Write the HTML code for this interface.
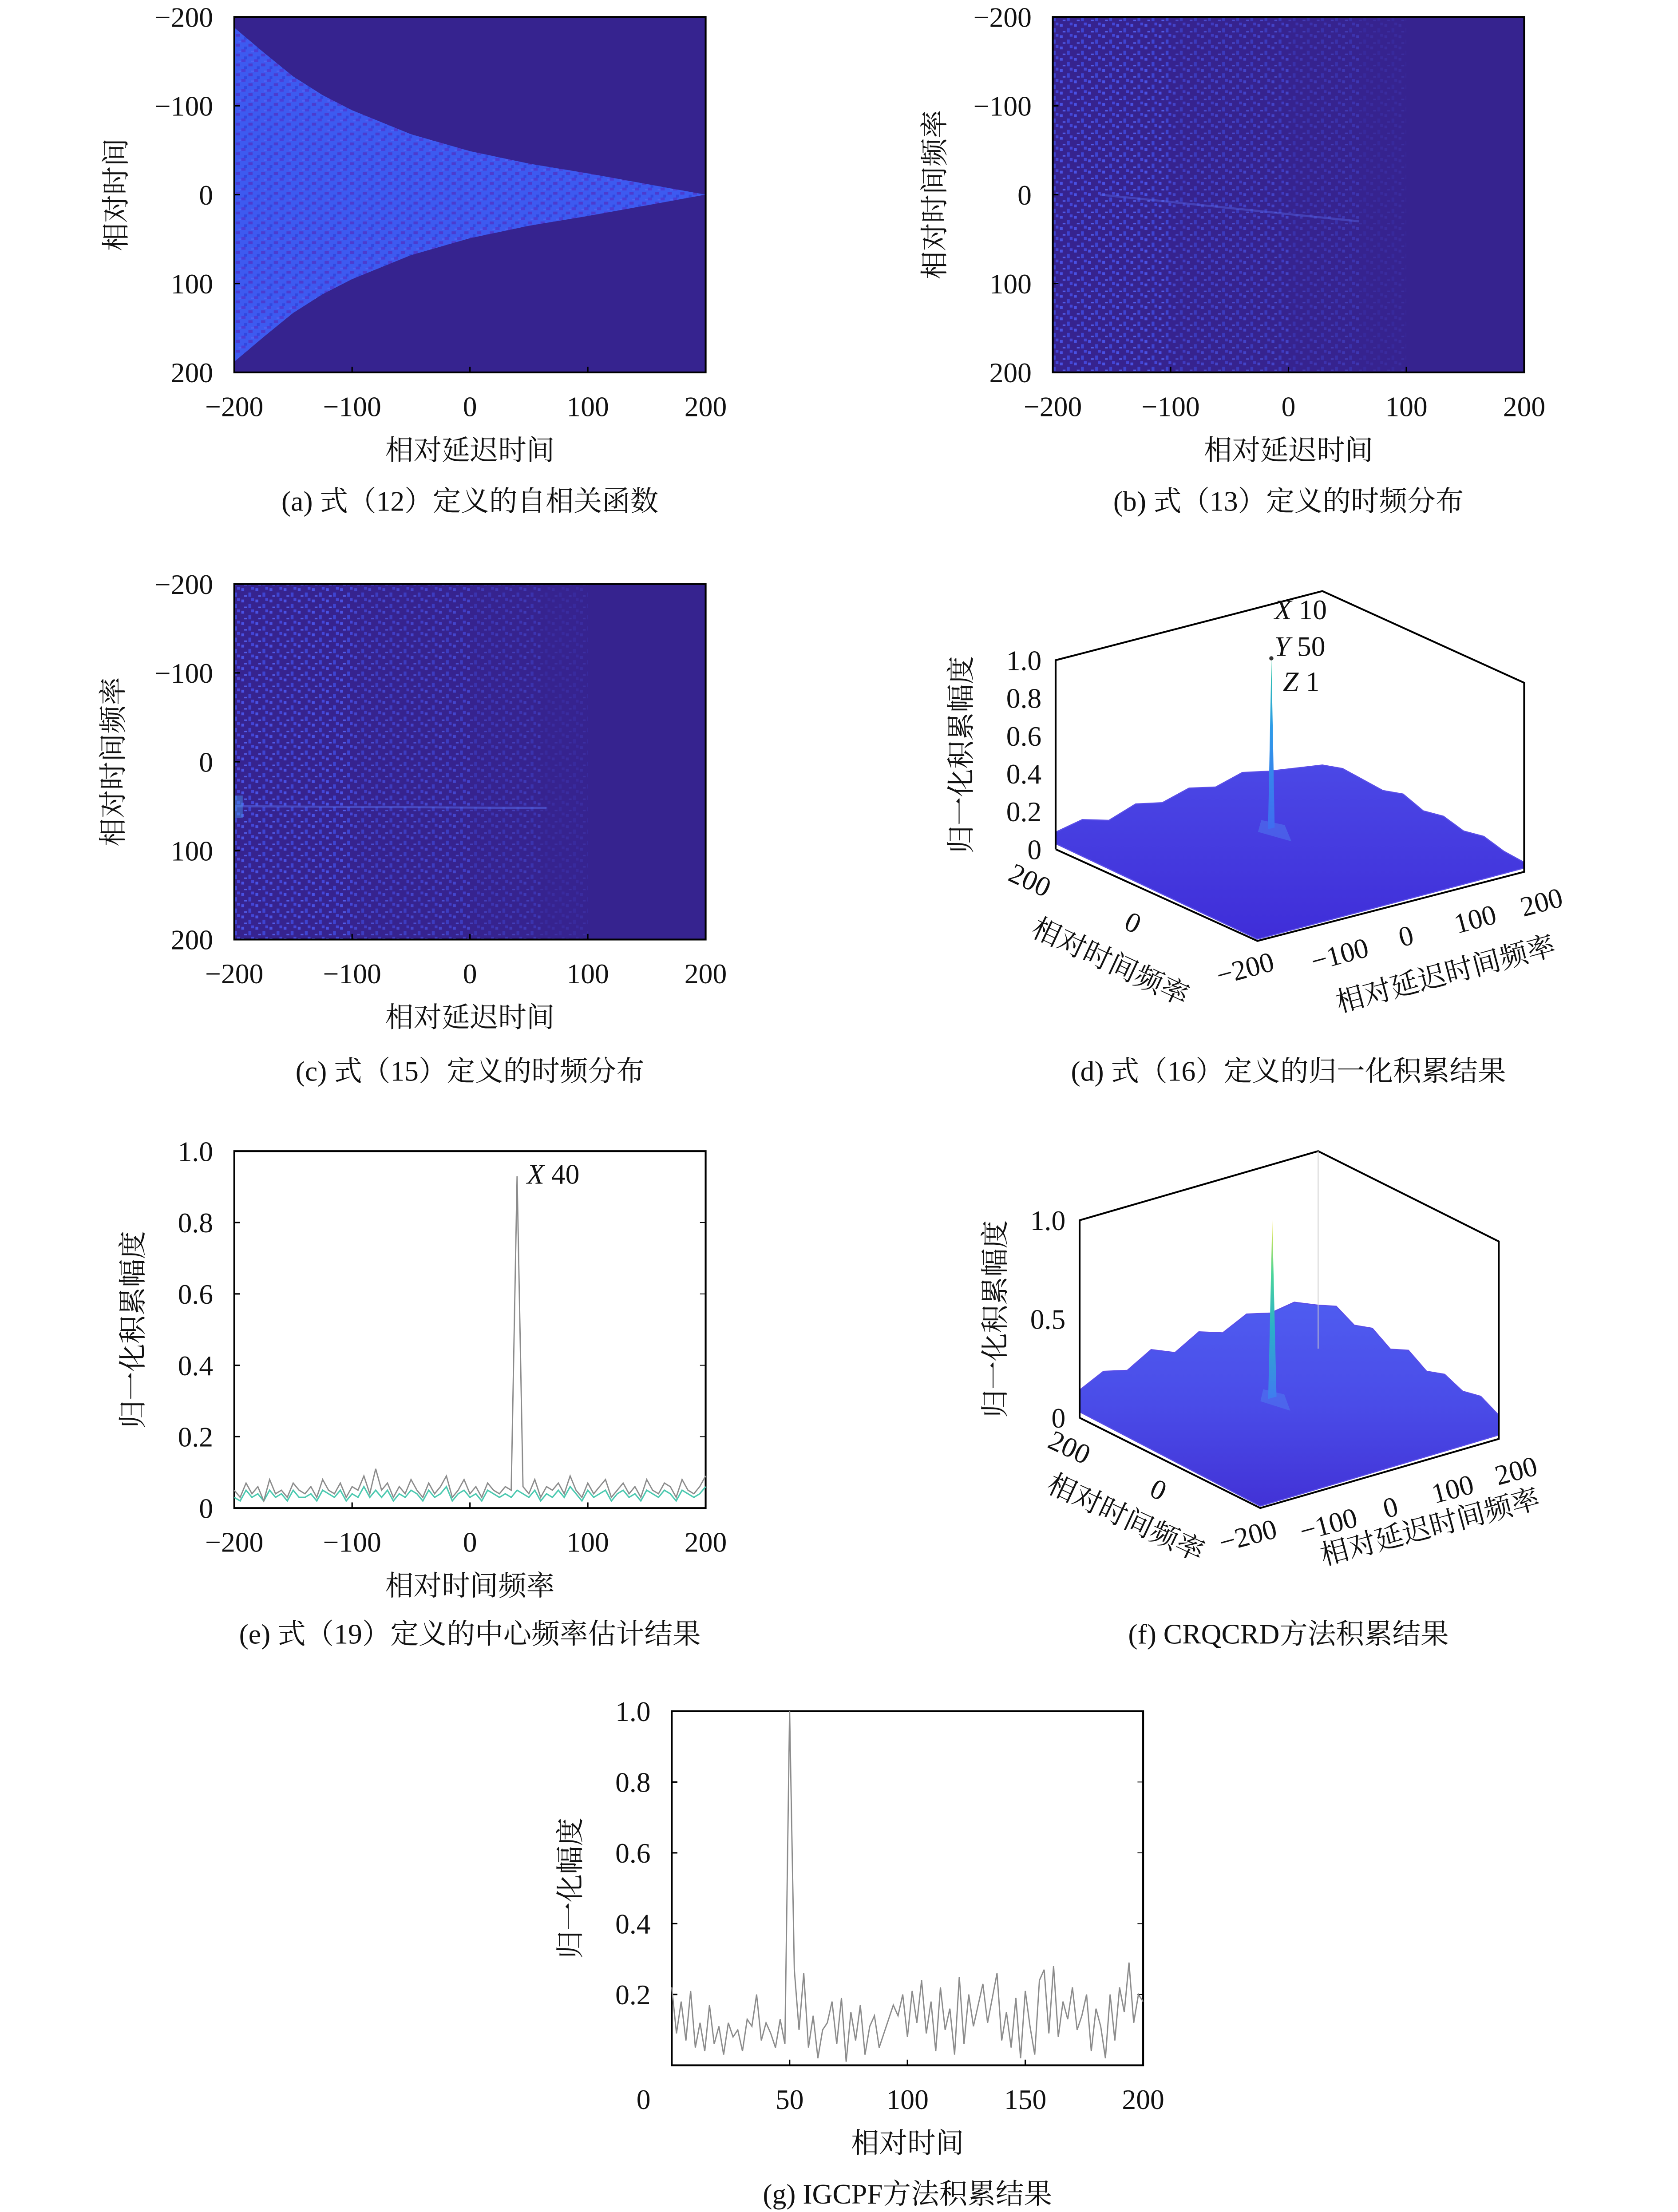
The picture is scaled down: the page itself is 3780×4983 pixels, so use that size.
<!DOCTYPE html>
<html><head><meta charset="utf-8"><style>
html,body{margin:0;padding:0;background:#fff;}
svg{display:block;}
text{font-family:"Liberation Serif","Noto Serif CJK SC",serif;fill:#111;}
</style></head><body>
<svg id="fig" xmlns="http://www.w3.org/2000/svg" width="3780" height="4983" viewBox="0 0 1189 1568" preserveAspectRatio="none">
<defs>
<pattern id="speckA" width="9" height="7" patternUnits="userSpaceOnUse">
<rect width="9" height="7" fill="#3d5af0"/><rect x="0" y="0" width="3" height="2" fill="#4a3fd8"/><rect x="5" y="3" width="3" height="2" fill="#4b3cd0"/><rect x="2" y="5" width="2" height="2" fill="#3048e0"/><rect x="7" y="1" width="2" height="1" fill="#4e62f5"/>
</pattern>
<pattern id="speckB" width="10" height="8" patternUnits="userSpaceOnUse">
<rect x="1" y="1" width="2" height="2" fill="#4a55e8"/><rect x="6" y="4" width="2" height="3" fill="#3e46d6"/><rect x="3" y="6" width="2" height="1" fill="#5360ee"/><rect x="8" y="0" width="2" height="2" fill="#4448dc"/>
</pattern>
<linearGradient id="surfD" x1="0" y1="0" x2="0" y2="1"><stop offset="0" stop-color="#4b48e6"/><stop offset="1" stop-color="#3f2dd8"/></linearGradient>
<linearGradient id="surfF" x1="0" y1="0" x2="0" y2="1"><stop offset="0" stop-color="#4f5cf0"/><stop offset="0.5" stop-color="#4a4ce8"/><stop offset="1" stop-color="#4232d6"/></linearGradient>
<linearGradient id="peakD" x1="0" y1="0" x2="0" y2="1"><stop offset="0" stop-color="#30c8a0"/><stop offset="0.4" stop-color="#2e9ce8"/><stop offset="1" stop-color="#3f6cf0"/></linearGradient>
<linearGradient id="peakF" x1="0" y1="0" x2="0" y2="1"><stop offset="0" stop-color="#f5e63a"/><stop offset="0.3" stop-color="#4cd69a"/><stop offset="0.6" stop-color="#2bb0c8"/><stop offset="1" stop-color="#3f7cf0"/></linearGradient>
</defs>
</svg>
<script>
// ---------- data ----------
const hmTicks = [-200,-100,0,100,200];
const aBoundX = [-200,-175,-150,-125,-100,-50,0,50,100,150,200];
const aBoundHalf = [188,160,133,112,95,68,49,35,24,12,0];
const bDensityEdges = [-200,-100,0,60,100];
const bDensity = [0.95,0.65,0.4,0.18];
const cDensityEdges = [-200,-100,0,60,100];
const cDensity = [0.95,0.7,0.45,0.2];
const eTicksY = [0,0.2,0.4,0.6,0.8,1.0];
const eGray = [0.05,0.03,0.07,0.04,0.06,0.02,0.08,0.04,0.05,0.03,0.07,0.05,0.04,0.06,0.03,0.08,0.05,0.04,0.07,0.03,0.06,0.05,0.09,0.04,0.11,0.05,0.07,0.03,0.06,0.04,0.08,0.05,0.03,0.07,0.04,0.06,0.09,0.03,0.05,0.08,0.04,0.06,0.03,0.07,0.05,0.04,0.06,0.05,0.93,0.06,0.04,0.08,0.03,0.06,0.05,0.07,0.04,0.09,0.05,0.03,0.07,0.04,0.06,0.08,0.03,0.05,0.07,0.04,0.06,0.03,0.08,0.05,0.04,0.07,0.06,0.03,0.08,0.05,0.04,0.06,0.09];
const eCyan = [0.03,0.02,0.05,0.03,0.04,0.02,0.05,0.03,0.04,0.02,0.05,0.03,0.03,0.04,0.02,0.05,0.04,0.03,0.05,0.02,0.04,0.03,0.06,0.03,0.05,0.03,0.05,0.02,0.04,0.03,0.05,0.04,0.02,0.05,0.03,0.04,0.06,0.02,0.04,0.05,0.03,0.04,0.02,0.05,0.04,0.03,0.04,0.03,0.05,0.04,0.03,0.05,0.02,0.04,0.03,0.05,0.03,0.06,0.04,0.02,0.05,0.03,0.04,0.05,0.02,0.04,0.05,0.03,0.04,0.02,0.05,0.04,0.03,0.05,0.04,0.02,0.05,0.04,0.03,0.04,0.06];
const gTicksX = [0,50,100,150,200];
const gTicksY = [0.2,0.4,0.6,0.8,1.0];
const gGray = [0.22,0.09,0.18,0.07,0.21,0.05,0.12,0.04,0.17,0.06,0.11,0.03,0.12,0.08,0.1,0.04,0.13,0.11,0.2,0.07,0.12,0.09,0.05,0.13,0.06,1.0,0.27,0.1,0.26,0.05,0.14,0.02,0.1,0.12,0.18,0.06,0.19,0.01,0.15,0.07,0.17,0.03,0.11,0.14,0.05,0.09,0.13,0.17,0.14,0.2,0.08,0.21,0.12,0.24,0.09,0.18,0.04,0.22,0.1,0.16,0.03,0.25,0.06,0.2,0.11,0.17,0.23,0.12,0.19,0.26,0.07,0.15,0.05,0.19,0.02,0.21,0.11,0.03,0.24,0.27,0.09,0.28,0.08,0.18,0.13,0.22,0.1,0.14,0.2,0.04,0.16,0.11,0.02,0.2,0.07,0.22,0.15,0.29,0.12,0.2,0.18];
const dZTicks = [0,0.2,0.4,0.6,0.8,1.0];
const fZTicks = [0,0.5,1.0];
const dEdgeBL = [0.09,0.12,0.08,0.13,0.1,0.14,0.11,0.15,0.12,0.1,0.08];
const dEdgeBR = [0.08,0.11,0.1,0.09,0.12,0.08,0.1,0.07,0.09,0.06,0.05];
const dPeak = {u:10, v:50, z:1};
const fEdgeBL = [0.14,0.2,0.17,0.24,0.19,0.26,0.22,0.28,0.25,0.27,0.22];
const fEdgeBR = [0.22,0.26,0.21,0.24,0.18,0.22,0.16,0.19,0.15,0.17,0.12];
const fPeak = {u:5, v:44, z:1};

// ---------- helpers ----------
const NS='http://www.w3.org/2000/svg';
const svg=document.getElementById('fig');
function mk(tag,attrs,parent){const e=document.createElementNS(NS,tag);for(const k in attrs)e.setAttribute(k,attrs[k]);(parent||svg).appendChild(e);return e;}
function txt(p,x,y,s,anchor,size,rot,style){const e=mk('text',{x:x,y:y,'text-anchor':anchor||'middle','font-size':size||20},p);if(rot)e.setAttribute('transform','rotate('+rot+' '+x+' '+y+')');if(style)e.setAttribute('font-style',style);e.textContent=s;return e;}
function lin(d0,d1,r0,r1){return v=>r0+(v-d0)/(d1-d0)*(r1-r0);}
function fmt(v){return v<0?'\u2212'+(-v):String(v);}

// ---------- heatmap panel ----------
function heatPanel(name,x0,y0,x1,y1,ylab,ylabX,xlab,caption,capX,capY){
  const g=mk('g',{});
  
  
  const sx=lin(-200,200,x0,x1), sy=lin(-200,200,y0,y1);
  const bg=mk('rect',{x:x0,y:y0,width:x1-x0,height:y1-y0,fill:'#36238f'},g);
  
  
  return {g,sx,sy,finish:function(){
    const fr=mk('rect',{x:x0,y:y0,width:x1-x0,height:y1-y0,fill:'none',stroke:'#000','stroke-width':1.3},g);
    
    
    hmTicks.forEach(t=>{
      const ty=sy(t), tx=sx(t);
      mk('line',{x1:x0,x2:x0+4,y1:ty,y2:ty,stroke:'#000','stroke-width':1},g);
      mk('line',{x1:tx,x2:tx,y1:y1,y2:y1-4,stroke:'#000','stroke-width':1},g);
      const yl=txt(g,x0-15,ty+7,fmt(t),'end',20);
      
      
      const xl=txt(g,tx,y1+31,fmt(t),'middle',20);
      
      
    });
    const yt=txt(g,ylabX,(y0+y1)/2,ylab,'middle',20,-90);
    
    
    const xt=txt(g,(x0+x1)/2,y1+62,xlab,'middle',20);
    
    
    const cp=txt(g,capX,capY,caption,'middle',20);
    
    
  }};
}

// (a)
(function(){
  const P=heatPanel('panel-a-autocorrelation',166,12,500,264,'相对时间',89,'相对延迟时间','(a) 式（12）定义的自相关函数',333,362);
  let pts=[];
  aBoundX.forEach((x,i)=>pts.push(P.sx(x)+','+P.sy(-aBoundHalf[i])));
  for(let i=aBoundX.length-1;i>=0;i--)pts.push(P.sx(aBoundX[i])+','+P.sy(aBoundHalf[i]));
  const tri=mk('polygon',{points:pts.join(' '),fill:'url(#speckA)'},P.g);
  
  
  P.finish();
})();

function densityPanel(P,edges,dens){
  dens.forEach((d,i)=>{
    const r=mk('rect',{x:P.sx(edges[i]),y:P.sy(-200),width:P.sx(edges[i+1])-P.sx(edges[i]),height:P.sy(200)-P.sy(-200),fill:'url(#speckB)',opacity:d},P.g);
    
    
  });
}
// (b)
(function(){
  const P=heatPanel('panel-b-tf-distribution',746,12,1080,264,'相对时间频率',669,'相对延迟时间','(b) 式（13）定义的时频分布',913,362);
  densityPanel(P,bDensityEdges,bDensity);
  const l=mk('line',{x1:P.sx(-160),y1:P.sy(0),x2:P.sx(60),y2:P.sy(30),stroke:'#5a6cf0','stroke-width':1.5,opacity:0.4},P.g);
  
  
  P.finish();
})();
// (c)
(function(){
  const P=heatPanel('panel-c-tf-distribution',166,414,500,666,'相对时间频率',87,'相对延迟时间','(c) 式（15）定义的时频分布',333,766);
  densityPanel(P,cDensityEdges,cDensity);
  const l=mk('line',{x1:P.sx(-200),y1:P.sy(50),x2:P.sx(65),y2:P.sy(52),stroke:'#5a70f2','stroke-width':1.5,opacity:0.5},P.g);
  
  
  const s=mk('rect',{x:P.sx(-200),y:P.sy(38),width:6,height:16,fill:'#4a9af0',opacity:0.45},P.g);
  
  
  P.finish();
})();

// ---------- line panels ----------
function linePanel(name,x0,y0,x1,y1,xd0,xd1,xt,yt,ylab,ylabX,xlab,caption,capX,capY,xTickOffset){
  const g=mk('g',{});
  
  
  const sx=lin(xd0,xd1,x0,x1), sy=lin(0,1,y1,y0);
  const fr=mk('rect',{x:x0,y:y0,width:x1-x0,height:y1-y0,fill:'none',stroke:'#000','stroke-width':1.3},g);
  
  
  yt.forEach(t=>{
    mk('line',{x1:x0,x2:x0+4,y1:sy(t),y2:sy(t),stroke:'#000'},g);
    mk('line',{x1:x1,x2:x1-4,y1:sy(t),y2:sy(t),stroke:'#000','stroke-width':0.6},g);
    const l=txt(g,x0-15,sy(t)+7,t===0?'0':t.toFixed(1),'end',20);
    
    
  });
  xt.forEach(t=>{
    mk('line',{x1:sx(t),x2:sx(t),y1:y1,y2:y1-4,stroke:'#000'},g);
    const l=txt(g,sx(t)+((xTickOffset&&t===xt[0])?xTickOffset:0),y1+31,fmt(t),'middle',20);
    
    
  });
  const a=txt(g,ylabX,(y0+y1)/2,ylab,'middle',20,-90);
  
  
  const b=txt(g,(x0+x1)/2,y1+62,xlab,'middle',20);
  
  
  const c=txt(g,capX,capY,caption,'middle',20);
  
  
  return {g,sx,sy};
}
function series(P,vals,xd0,xd1,color,w,name){
  const step=(xd1-xd0)/(vals.length-1);
  const d=vals.map((v,i)=>(i?'L':'M')+P.sx(xd0+i*step).toFixed(2)+' '+P.sy(v).toFixed(2)).join(' ');
  const p=mk('path',{d:d,fill:'none',stroke:color,'stroke-width':w},P.g);
  
  
}
// (e)
(function(){
  const P=linePanel('panel-e-center-frequency',166,816,500,1069,-200,200,hmTicks,eTicksY,'归一化积累幅度',101,'相对时间频率','(e) 式（19）定义的中心频率估计结果',333,1165);
  series(P,eCyan,-200,200,'#4cc9b0',1,'cyan-series');
  series(P,eGray,-200,200,'#8c8c8c',0.9,'gray-series');
  const t=txt(P.g,P.sx(40)+7,839,'','start',20);
  
  
  const i1=mk('tspan',{'font-style':'italic'},t);i1.textContent='X';
  const i2=mk('tspan',{},t);i2.textContent=' 40';
})();
// (g)
(function(){
  const P=linePanel('panel-g-igcpf',476,1213,810,1464,0,200,gTicksX,gTicksY,'归一化幅度',411,'相对时间','(g) IGCPF方法积累结果',643,1562,-20);
  series(P,gGray,0,200,'#8c8c8c',0.9,'gray-series');
})();

// ---------- 3D panels ----------
function panel3d(name,F,L,R,zs,zt,ylab,ylabX,lbl,caption,capX,capY,edgeBL,edgeBR,peak,surfFill,peakFill,peakW){
  const g=mk('g',{});
  
  
  const proj=(u,v,z)=>{const a=(u+200)/400,b=(v+200)/400;return [F[0]+a*(R[0]-F[0])+b*(L[0]-F[0]),F[1]+a*(R[1]-F[1])+b*(L[1]-F[1])-z*zs];};
  const P=(u,v,z)=>proj(u,v,z).map(n=>n.toFixed(1)).join(',');
  const n=edgeBL.length, pts=[];
  edgeBL.forEach((z,i)=>pts.push(P(-200+400*i/(n-1),200,z)));
  edgeBR.forEach((z,i)=>pts.push(P(200,200-400*i/(n-1),z)));
  pts.push(P(200,-200,0.02));pts.push(P(-200,-200,0.01));pts.push(P(-200,200,0.03));
  const s=mk('polygon',{points:pts.join(' '),fill:surfFill,stroke:'#5a4ee8','stroke-width':0.8},g);
  
  
  const rg=mk('polygon',{points:[P(peak.u-20,peak.v,0.1),P(peak.u,peak.v+20,0.12),P(peak.u+20,peak.v,0.1),P(peak.u,peak.v-40,0.08)].join(' '),fill:'#4f86f2',opacity:0.45},g);
  
  
  const pk=mk('polygon',{points:[P(peak.u-peakW,peak.v,0.1),P(peak.u,peak.v,peak.z),P(peak.u+peakW,peak.v,0.1)].join(' '),fill:peakFill},g);
  
  
  const box=mk('path',{d:'M'+P(-200,200,0)+' L'+P(-200,200,1)+' L'+P(200,200,1)+' L'+P(200,-200,1)+' L'+P(200,-200,0)+' L'+P(-200,-200,0)+' L'+P(-200,200,0),fill:'none',stroke:'#000','stroke-width':1.3},g);
  
  
  const lx=proj(-200,200,0)[0];
  zt.forEach(t=>{
    const y=proj(-200,200,t)[1];
    const l=txt(g,lx-10,y+7,t===0?'0':t.toFixed(1),'end',20);
    
    
  });
  const a=txt(g,ylabX,proj(-200,200,0.5)[1],ylab,'middle',20,-90);
  
  
  lbl.forEach(o=>{
    const e=txt(g,o[0],o[1],o[2],'middle',20,o[3]);
    
    
  });
  const c=txt(g,capX,capY,caption,'middle',20);
  
  
  return {g,proj};
}
// (d)
(function(){
  const D=panel3d('panel-d-accumulation-3d',[891,667],[748,602],[1080,618],134,dZTicks,'归一化积累幅度',688,[
    [727,630,'200',25,'v-tick-label'],[800,660,'0',25,'v-tick-label'],[784,688,'相对时间频率',25,'v-axis-title'],
    [884,693,'\u2212200',-15,'u-tick-label'],[951,683,'\u2212100',-15,'u-tick-label'],[998,670,'0',-15,'u-tick-label'],[1047,658,'100',-15,'u-tick-label'],[1094,646,'200',-15,'u-tick-label'],[1026,697,'相对延迟时间频率',-15,'u-axis-title']
  ],'(d) 式（16）定义的归一化积累结果',913,766,dEdgeBL,dEdgeBR,dPeak,'url(#surfD)','url(#peakD)',5);
  const pp=D.proj(dPeak.u,dPeak.v,dPeak.z);
  const dot=mk('circle',{cx:pp[0],cy:pp[1],r:1.5,fill:'#333'},D.g);
  
  
  [['X',' 10',439],['Y',' 50',465],['Z',' 1',490]].forEach(r=>{
    const t=txt(D.g,r[0]==='Z'?909:903,r[2],'','start',20);
    
    
    const a=mk('tspan',{'font-style':'italic'},t);a.textContent=r[0];
    const b=mk('tspan',{},t);b.textContent=r[1];
  });
})();
// (f)
(function(){
  const D=panel3d('panel-f-crqcrd-3d',[893,1069],[765,1005],[1062,1020],140,fZTicks,'归一化积累幅度',712,[
    [755,1032,'200',25,'v-tick-label'],[818,1062,'0',25,'v-tick-label'],[795,1082,'相对时间频率',25,'v-axis-title'],
    [886,1095,'\u2212200',-15,'u-tick-label'],[943,1087,'\u2212100',-15,'u-tick-label'],[987,1075,'0',-15,'u-tick-label'],[1031,1062,'100',-15,'u-tick-label'],[1076,1049,'200',-15,'u-tick-label'],[1015,1089,'相对延迟时间频率',-15,'u-axis-title']
  ],'(f) CRQCRD方法积累结果',913,1165,fEdgeBL,fEdgeBR,fPeak,'url(#surfF)','url(#peakF)',7);
  const a=D.proj(200,200,0), b=D.proj(200,200,1);
  const gl=mk('line',{x1:a[0],y1:a[1],x2:b[0],y2:b[1],stroke:'#ccc','stroke-width':0.6},D.g);
  
  
})();
</script>
</body></html>
